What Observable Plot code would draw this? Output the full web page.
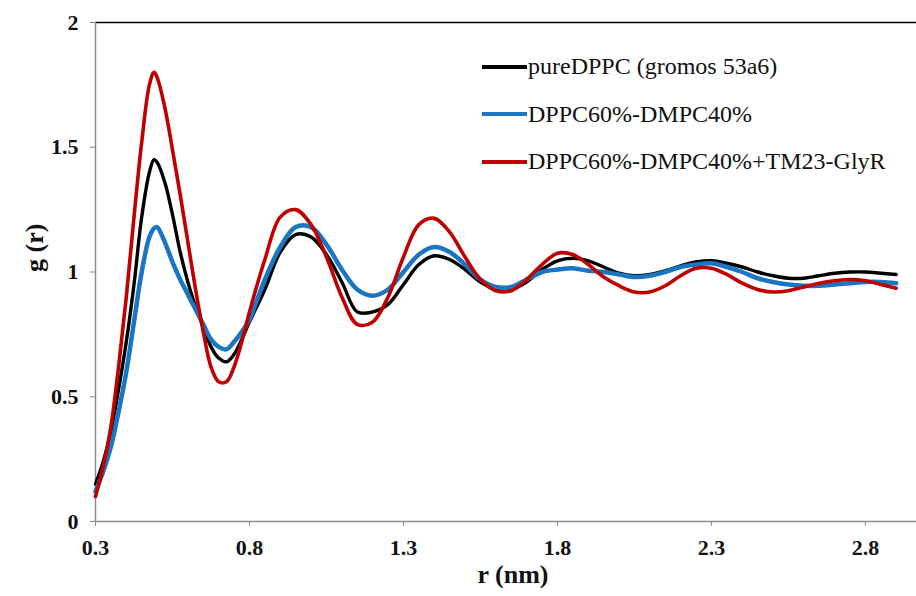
<!DOCTYPE html>
<html>
<head>
<meta charset="utf-8">
<script src="https://cdn.jsdelivr.net/npm/d3@7"></script>
<script src="https://cdn.jsdelivr.net/npm/@observablehq/plot@0.6"></script>
<style>
  body { margin: 0; background: #fff; }
  #wrap { position: relative; width: 916px; height: 596px; }
  #legend { position: absolute; left: 482px; top: 43px; font-family: "Liberation Serif", "Times New Roman", "DejaVu Serif", serif; font-size: 24px; color: #111; }
  .row { display: flex; align-items: center; height: 47.5px; }
  .sw { width: 45px; height: 4px; margin-right: 1px; }
  svg text { font-family: "Liberation Serif", "Times New Roman", "DejaVu Serif", serif; }
</style>
</head>
<body>
<div id="wrap"><div id="legend"></div></div>
<script>
const r = [0.300,0.325,0.350,0.375,0.400,0.425,0.450,0.475,0.490,0.500,0.525,0.550,0.575,0.600,0.625,0.650,0.675,0.700,0.725,0.750,0.775,0.800,
  0.85,0.90,0.95,1.00,1.05,1.10,1.15,1.20,1.25,1.30,1.35,1.40,1.45,1.50,1.55,1.60,1.65,1.70,1.75,1.80,1.85,1.90,1.95,2.00,2.05,2.10,2.15,2.20,2.25,2.30,2.35,2.40,2.45,2.50,2.55,2.60,2.65,2.70,2.75,2.80,2.85,2.90];

const pureDPPC = [0.15,0.24,0.36,0.53,0.72,0.95,1.22,1.40,1.45,1.44,1.36,1.23,1.08,0.96,0.86,0.78,0.70,0.655,0.64,0.67,0.73,0.80,
  0.93,1.08,1.15,1.14,1.07,0.96,0.84,0.84,0.87,0.95,1.03,1.065,1.05,1.01,0.96,0.93,0.93,0.96,1.01,1.045,1.055,1.045,1.02,0.995,0.985,0.99,1.005,1.025,1.04,1.045,1.035,1.02,1.0,0.985,0.975,0.975,0.985,0.995,1.0,1.0,0.995,0.99];

const mix = [0.12,0.20,0.30,0.44,0.60,0.80,1.00,1.14,1.175,1.18,1.12,1.04,0.97,0.91,0.85,0.79,0.73,0.70,0.69,0.72,0.76,0.81,
  0.97,1.10,1.18,1.18,1.11,1.01,0.93,0.905,0.93,1.00,1.07,1.10,1.08,1.03,0.97,0.94,0.94,0.97,1.0,1.01,1.015,1.005,1.0,0.99,0.98,0.985,1.0,1.02,1.03,1.035,1.02,1.0,0.975,0.96,0.95,0.945,0.945,0.95,0.955,0.96,0.96,0.955];

const mixTM = [0.10,0.22,0.38,0.62,0.90,1.22,1.52,1.75,1.80,1.78,1.66,1.49,1.31,1.12,0.93,0.76,0.62,0.56,0.56,0.62,0.72,0.84,
  1.05,1.22,1.25,1.19,1.06,0.90,0.79,0.80,0.90,1.06,1.19,1.215,1.16,1.06,0.97,0.925,0.925,0.97,1.03,1.075,1.07,1.03,0.98,0.945,0.92,0.92,0.945,0.985,1.015,1.015,0.99,0.955,0.93,0.92,0.925,0.94,0.955,0.965,0.97,0.965,0.95,0.935];

const seriesNames = ["pureDPPC (gromos 53a6)", "DPPC60%-DMPC40%", "DPPC60%-DMPC40%+TM23-GlyR"];
const seriesColors = ["#000000", "#1a75c2", "#c00000"];
const seriesWidths = [3.4, 4.5, 3.6];
const xTicks = [0.3, 0.8, 1.3, 1.8, 2.3, 2.8];
const yTicks = [0, 0.5, 1, 1.5, 2];
const xLabel = "r (nm)";
const yLabel = "g (r)";

const fontStack = "'Liberation Serif', 'Times New Roman', 'DejaVu Serif', serif";
const seriesValues = [pureDPPC, mix, mixTM];
const lines = seriesValues.map((vals, i) =>
  Plot.line(r.map((x, j) => ({r: x, g: vals[j]})), {
    x: "r", y: "g", stroke: seriesColors[i], strokeWidth: seriesWidths[i], curve: "catmull-rom"
  })
);

const chart = Plot.plot({
  width: 916,
  height: 596,
  marginLeft: 95,
  marginRight: 0,
  marginTop: 22,
  marginBottom: 75,
  style: { fontFamily: fontStack, background: "#fff", overflow: "visible" },
  x: { domain: [0.3, 2.966] },
  y: { domain: [0, 2] },
  marks: [
    Plot.ruleY([2], { stroke: "#000", strokeWidth: 1.5 }),
    Plot.ruleY([0], { stroke: "#8c8c8c", strokeWidth: 1.5 }),
    Plot.ruleX([0.3], { stroke: "#8c8c8c", strokeWidth: 1.5 }),
    Plot.axisX({ ticks: xTicks, tickFormat: d => String(d), tickSize: 5, tickPadding: 13, stroke: "#8c8c8c",
      fontSize: 22, fontWeight: "bold", fill: "#111", label: null }),
    Plot.axisY({ ticks: yTicks, tickFormat: d => String(d), tickSize: 5, tickPadding: 12, stroke: "#8c8c8c",
      fontSize: 22, fontWeight: "bold", fill: "#111", label: null }),
    ...lines,
    Plot.text([xLabel], { frameAnchor: "bottom", dx: 7, dy: 61, fontSize: 26, fontWeight: "bold", fill: "#111" }),
    Plot.text([yLabel], { frameAnchor: "left", dx: -61, rotate: -90, fontSize: 26, fontWeight: "bold", fill: "#111" })
  ]
});

const wrap = document.getElementById("wrap");
wrap.insertBefore(chart, wrap.firstChild);

const legend = document.getElementById("legend");
seriesNames.forEach((name, i) => {
  const row = document.createElement("div");
  row.className = "row";
  const sw = document.createElement("div");
  sw.className = "sw";
  sw.style.background = seriesColors[i];
  const t = document.createElement("span");
  t.textContent = name;
  row.appendChild(sw);
  row.appendChild(t);
  legend.appendChild(row);
});
</script>
</body>
</html>
